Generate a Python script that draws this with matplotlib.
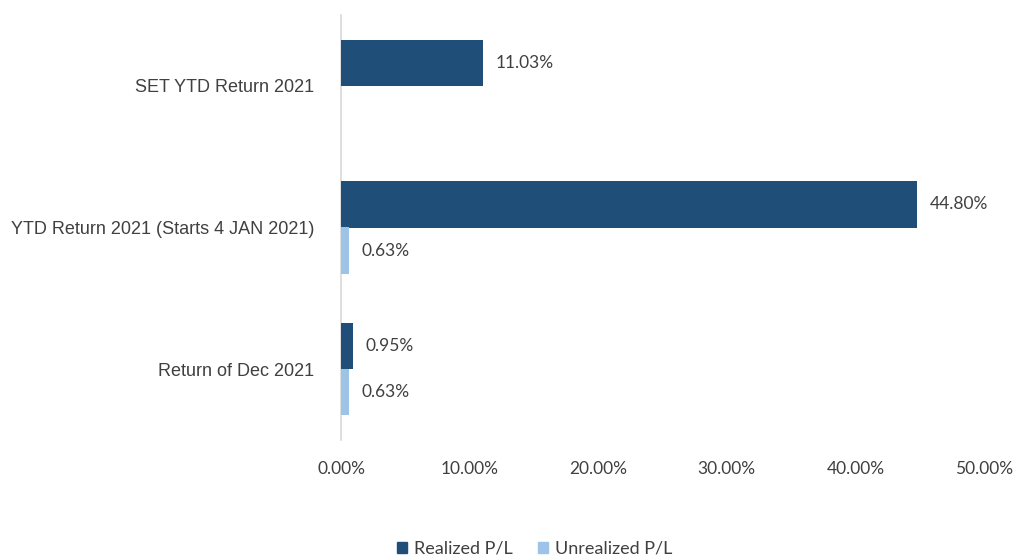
import numpy as np
import matplotlib
matplotlib.use("Agg")
import matplotlib.pyplot as plt
from matplotlib.patches import Patch

categories = ["Return of Dec 2021", "YTD Return 2021 (Starts 4 JAN 2021)", "SET YTD Return 2021"]
realized = [0.95, 44.80, 11.03]
unrealized = [0.63, 0.63, np.nan]
xticks = [0, 10, 20, 30, 40, 50]

dark = "#1F4E79"
light = "#9DC3E6"
txt = "#404040"

fig = plt.figure(figsize=(10.16, 5.6), dpi=100)
ax = fig.add_axes([341/1016, 1-440/560, (984-341)/1016, 425/560])

y = np.arange(len(categories))
h = 0.325
ax.barh(y + h/2, realized, height=h, color=dark, zorder=3)
ax.barh(y - h/2, np.nan_to_num(unrealized), height=h, color=light, zorder=3)

for yi, v in zip(y, realized):
    ax.annotate(f"{v:.2f}%", (v, yi + h/2), xytext=(9, 0), textcoords="offset points",
                va="center", ha="left", fontsize=12.5, color=txt, family="Lato")
for yi, v in zip(y, unrealized):
    if not np.isnan(v):
        ax.annotate(f"{v:.2f}%", (v, yi - h/2), xytext=(9, 0), textcoords="offset points",
                    va="center", ha="left", fontsize=12.5, color=txt, family="Lato")

ax.set_xlim(0, 50)
ax.set_ylim(-0.5, 2.5)
ax.set_xticks(xticks)
ax.set_xticklabels([f"{t:.2f}%" for t in xticks], family="Lato", fontsize=12.5, color=txt)
ax.set_yticks(y)
ax.set_yticklabels(categories, family="Liberation Sans", fontsize=13, color=txt)
ax.tick_params(axis="both", length=0)
ax.tick_params(axis="y", pad=19)
ax.tick_params(axis="x", pad=15)
for s in ["top", "right", "bottom"]:
    ax.spines[s].set_visible(False)
ax.spines["left"].set_color("#D9D9D9")
ax.spines["left"].set_linewidth(1.2)

handles = [Patch(color=dark, label="Realized P/L"), Patch(color=light, label="Unrealized P/L")]
fig.legend(handles=handles, loc="center", bbox_to_anchor=(535/1016, 1-549/560), ncol=2,
           frameon=False, handlelength=0.55, handleheight=0.55, handletextpad=0.4,
           columnspacing=1.4, prop={"family": "Lato", "size": 13}, labelcolor=txt)

fig.savefig("out.png", dpi=100, facecolor="white")
